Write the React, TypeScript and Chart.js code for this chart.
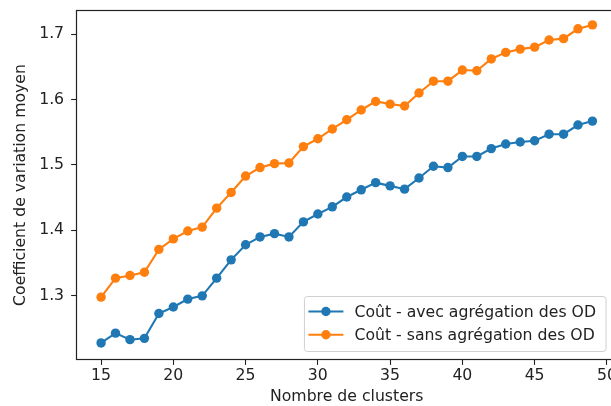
import React, { useEffect, useRef } from "react";
import { Chart, registerables } from "chart.js";

Chart.register(...registerables);

const CLUSTERS = [15, 16, 17, 18, 19, 20, 21, 22, 23, 24, 25, 26, 27, 28, 29, 30, 31, 32, 33, 34, 35, 36, 37, 38, 39, 40, 41, 42, 43, 44, 45, 46, 47, 48, 49];

const AVEC = [1.228, 1.243, 1.233, 1.235, 1.273, 1.283, 1.295, 1.300, 1.327, 1.355, 1.378, 1.390, 1.395, 1.390, 1.413, 1.425, 1.436, 1.451, 1.462, 1.473, 1.468, 1.463, 1.480, 1.498, 1.496, 1.513, 1.513, 1.525, 1.532, 1.535, 1.537, 1.547, 1.547, 1.561, 1.567];

const SANS = [1.298, 1.327, 1.331, 1.336, 1.371, 1.387, 1.399, 1.405, 1.434, 1.458, 1.483, 1.496, 1.502, 1.503, 1.528, 1.540, 1.555, 1.569, 1.584, 1.597, 1.593, 1.590, 1.610, 1.628, 1.628, 1.645, 1.644, 1.662, 1.672, 1.677, 1.680, 1.691, 1.693, 1.708, 1.714];

const X_TICKS = [15, 20, 25, 30, 35, 40, 45, 50];
const Y_TICKS = [1.3, 1.4, 1.5, 1.6, 1.7];

const LABEL_AVEC = "Coût - avec agrégation des OD";
const LABEL_SANS = "Coût - sans agrégation des OD";
const X_TITLE = "Nombre de clusters";
const Y_TITLE = "Coefficient de variation moyen";

const FONT_FAMILY = "'DejaVu Sans', sans-serif";
const FONT_SIZE = 15.7;
const INK = "#222";

const boxPlugin = {
  id: "mplBox",
  afterDraw(chart: any) {
    const { ctx, chartArea } = chart;
    ctx.save();
    // spines
    ctx.strokeStyle = INK;
    ctx.lineWidth = 1.2;
    ctx.strokeRect(chartArea.left, chartArea.top, chartArea.right - chartArea.left, chartArea.bottom - chartArea.top);

    // legend
    ctx.font = `${FONT_SIZE}px ${FONT_FAMILY}`;
    const ds = chart.data.datasets;
    const tw = Math.max(...ds.map((d: any) => ctx.measureText(d.label).width));
    const right = chartArea.right - 11;
    const bottom = chartArea.bottom - 8;
    const w = 50 + tw + 10;
    const h = 55;
    const left = right - w;
    const top = bottom - h;
    const r = 3;
    ctx.beginPath();
    ctx.moveTo(left + r, top);
    ctx.lineTo(right - r, top);
    ctx.arcTo(right, top, right, top + r, r);
    ctx.lineTo(right, bottom - r);
    ctx.arcTo(right, bottom, right - r, bottom, r);
    ctx.lineTo(left + r, bottom);
    ctx.arcTo(left, bottom, left, bottom - r, r);
    ctx.lineTo(left, top + r);
    ctx.arcTo(left, top, left + r, top, r);
    ctx.closePath();
    ctx.fillStyle = "rgba(255,255,255,0.8)";
    ctx.fill();
    ctx.strokeStyle = "#d0d0d0";
    ctx.lineWidth = 1;
    ctx.stroke();

    ds.forEach((d: any, i: number) => {
      const cy = top + 15 + i * 23.3;
      ctx.strokeStyle = d.borderColor;
      ctx.lineWidth = 2.1;
      ctx.beginPath();
      ctx.moveTo(left + 4, cy);
      ctx.lineTo(left + 39, cy);
      ctx.stroke();
      ctx.fillStyle = d.backgroundColor;
      ctx.beginPath();
      ctx.arc(left + 21.5, cy, 4.7, 0, Math.PI * 2);
      ctx.fill();
      ctx.fillStyle = INK;
      ctx.textAlign = "left";
      ctx.textBaseline = "middle";
      ctx.fillText(d.label, left + 50, cy + 1);
    });
    ctx.restore();
  },
};

export default function App() {
  const ref = useRef<HTMLCanvasElement | null>(null);

  useEffect(() => {
    document.body.style.margin = "0";
    const canvas = ref.current;
    if (!canvas) return;
    const tickFont = { family: FONT_FAMILY, size: FONT_SIZE };
    const chart = new Chart(canvas, {
      type: "line",
      data: {
        datasets: [
          {
            label: LABEL_AVEC,
            data: CLUSTERS.map((c, i) => ({ x: c, y: AVEC[i] })),
            borderColor: "#1f77b4",
            backgroundColor: "#1f77b4",
            borderWidth: 2.1,
            pointRadius: 4.7,
            pointHoverRadius: 4.7,
            pointBorderWidth: 0,
            tension: 0,
          },
          {
            label: LABEL_SANS,
            data: CLUSTERS.map((c, i) => ({ x: c, y: SANS[i] })),
            borderColor: "#ff7f0e",
            backgroundColor: "#ff7f0e",
            borderWidth: 2.1,
            pointRadius: 4.7,
            pointHoverRadius: 4.7,
            pointBorderWidth: 0,
            tension: 0,
          },
        ],
      },
      options: {
        animation: false,
        responsive: false,
        devicePixelRatio: 1,
        layout: { padding: { left: 0, top: 10.5, right: 13, bottom: 0 } },
        plugins: { legend: { display: false }, tooltip: { enabled: false } },
        scales: {
          x: {
            type: "linear",
            min: 13.3,
            max: 50.7,
            afterBuildTicks: (s: any) => {
              s.ticks = X_TICKS.map((v) => ({ value: v }));
            },
            afterFit: (s: any) => {
              s.height = 46.5;
              s.paddingLeft = 0;
              s.paddingRight = 0;
            },
            grid: { display: true, drawOnChartArea: false, drawTicks: true, tickLength: 5.4, tickColor: INK, tickWidth: 1.1 },
            border: { display: false },
            ticks: { font: tickFont, color: INK, padding: 2, maxRotation: 0, autoSkip: false, callback: (v: any) => String(v) },
            title: { display: true, text: X_TITLE, font: tickFont, color: INK, padding: 0 },
          },
          y: {
            type: "linear",
            min: 1.2027,
            max: 1.736,
            afterBuildTicks: (s: any) => {
              s.ticks = Y_TICKS.map((v) => ({ value: v }));
            },
            afterFit: (s: any) => {
              s.width = 76.5;
              s.paddingTop = 0;
              s.paddingBottom = 0;
            },
            grid: { display: true, drawOnChartArea: false, drawTicks: true, tickLength: 5.4, tickColor: INK, tickWidth: 1.1 },
            border: { display: false },
            ticks: { font: tickFont, color: INK, padding: 7, autoSkip: false, callback: (v: any) => Number(v).toFixed(1) },
            title: { display: true, text: Y_TITLE, font: tickFont, color: INK, padding: { top: 12, bottom: 0 } },
          },
        },
      },
      plugins: [boxPlugin],
    } as any);
    return () => chart.destroy();
  }, []);

  return (
    <div style={{ width: 611, height: 406, overflow: "hidden", position: "relative", background: "#fff" }}>
      <canvas ref={ref} width={630} height={406} style={{ width: 630, height: 406, display: "block" }} />
    </div>
  );
}
